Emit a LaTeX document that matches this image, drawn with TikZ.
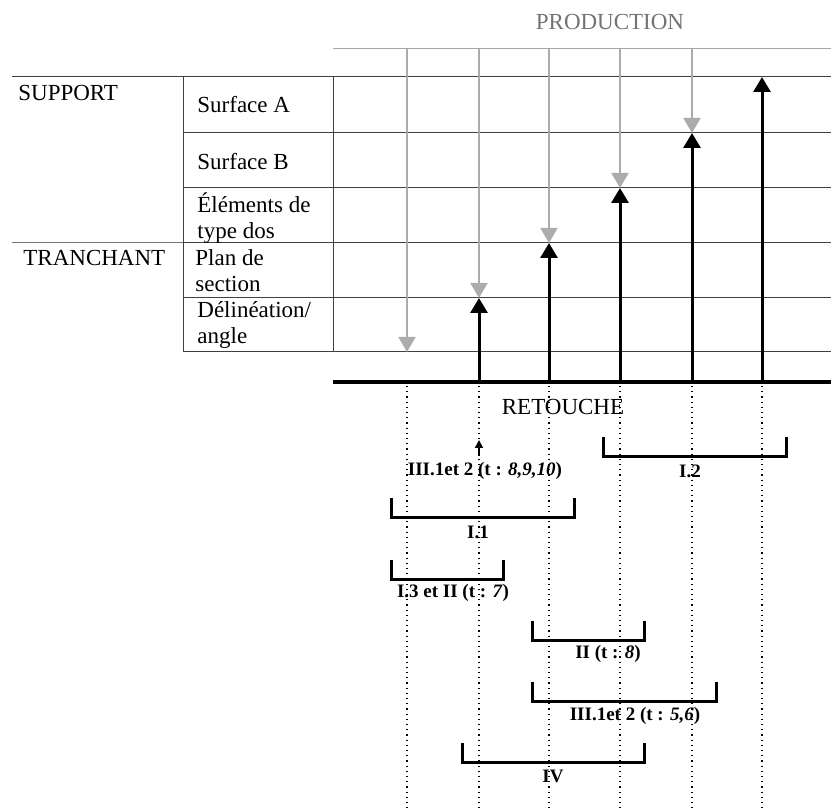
\documentclass[tikz,border=0pt]{standalone}
\usepackage{fontspec}
\setmainfont{Liberation Serif}
\usetikzlibrary{arrows.meta}

\begin{document}
\begin{tikzpicture}
    [x=0.5pt,y=-0.5pt,>={Triangle[width=8.5pt,length=7.5pt]},
        grid line/.style={draw=black!75,line width=0.5pt},
        prod arrow/.style={->,draw=gray!65,line width=1pt},
        ret arrow/.style={->,draw=black,line width=1.5pt},
        guide line/.style={dotted,line width=0.6pt},
        bracket line/.style={line width=1.5pt},
        big text/.style={inner sep=0pt,font=\fontsize{11.5}{13}\selectfont},
        row text/.style={big text,anchor=west,align=left},
        phase text/.style={inner sep=0pt,font=\bfseries\fontsize{9.5}{11}\selectfont}]
    \useasboundingbox (0,0) rectangle (831,812);

    % columns, rows and borders
    \foreach \n/\x in {1/407,2/479,3/549,4/620,5/692,6/762}
        \coordinate (c\n) at (\x,382);
    \foreach \n/\y in {0/77,1/133,2/188,3/243,4/298,5/352}
        \coordinate (r\n) at (183,\y);
    \coordinate (top) at (333,49);
    \coordinate (base) at (333,382);
    \coordinate (east) at (831,812);

    \foreach \n in {0,...,5}
        \draw[grid line] (r\n) -- (r\n -| east);
    \draw[grid line] (12,77) -- (r0);
    \draw[grid line,draw=black!55] (12,243) -- (r3);
    \draw[grid line] (r0) -- (r5);
    \draw[grid line] (top |- r0) -- (top |- r5);
    \draw[grid line,draw=gray!70] (top) -- (top -| east);
    \draw[line width=1.6pt] (base) -- (base -| east);

    \foreach \k in {1,...,6}
        \draw[guide line] (c\k) ++(0,4) -- (c\k |- east);

    \foreach \k/\r in {1/5,2/4,3/3,4/2,5/1}
        \draw[prod arrow] (c\k |- top) -- (c\k |- r\r);
    \foreach \k/\r in {2/4,3/3,4/2,5/1,6/0}
        \draw[ret arrow] (c\k) -- (c\k |- r\r);

    \node[big text,text=black!55] (prod) at (610,22) {PRODUCTION};
    \node[big text] (ret) at (563,407) {RETOUCHE};

    \node[row text] (support) at (18,93) {SUPPORT};
    \node[row text] (tranchant) at (23,258) {TRANCHANT};
    \node[row text] (surfa) at (197,105) {Surface A};
    \node[row text] (surfb) at (197,162) {Surface B};
    \node[row text] (dos) at (197,218) {Éléments de\\type dos};
    \node[row text] (plan) at (195,271) {Plan de\\section};
    \node[row text] (delin) at (197,325) {Délinéation/\\angle};

    % brackets of the retouch phases
    \foreach \a/\b/\t in {603/786/437,391/574/498,391/503/560,532/644/621,532/716/682,462/644/743}
        \draw[bracket line] (\a,\t) -- ++(0,20) -| (\b,\t);

    \node[phase text] (pI2) at (690,471) {I.2};
    \node[phase text] (pIIIa) at (485,471) {III.1et 2 (t : \textit{8,9,10})};
    \node[phase text] (pI1) at (478,532) {I.1};
    \node[phase text] (pI3) at (453,593) {I.3 et II (t : \textit{7})};
    \node[phase text] (pII) at (608,654) {II (t : \textit{8})};
    \node[phase text] (pIIIb) at (635,716) {III.1et 2 (t : \textit{5,6})};
    \node[phase text] (pIV) at (553,776) {IV};

    \draw[->,>={Triangle[width=4pt,length=4pt]},line width=0.8pt]
        (c2 |- pIIIa.north) ++(0,-6) -- ++(0,-16);
\end{tikzpicture}
\end{document}
